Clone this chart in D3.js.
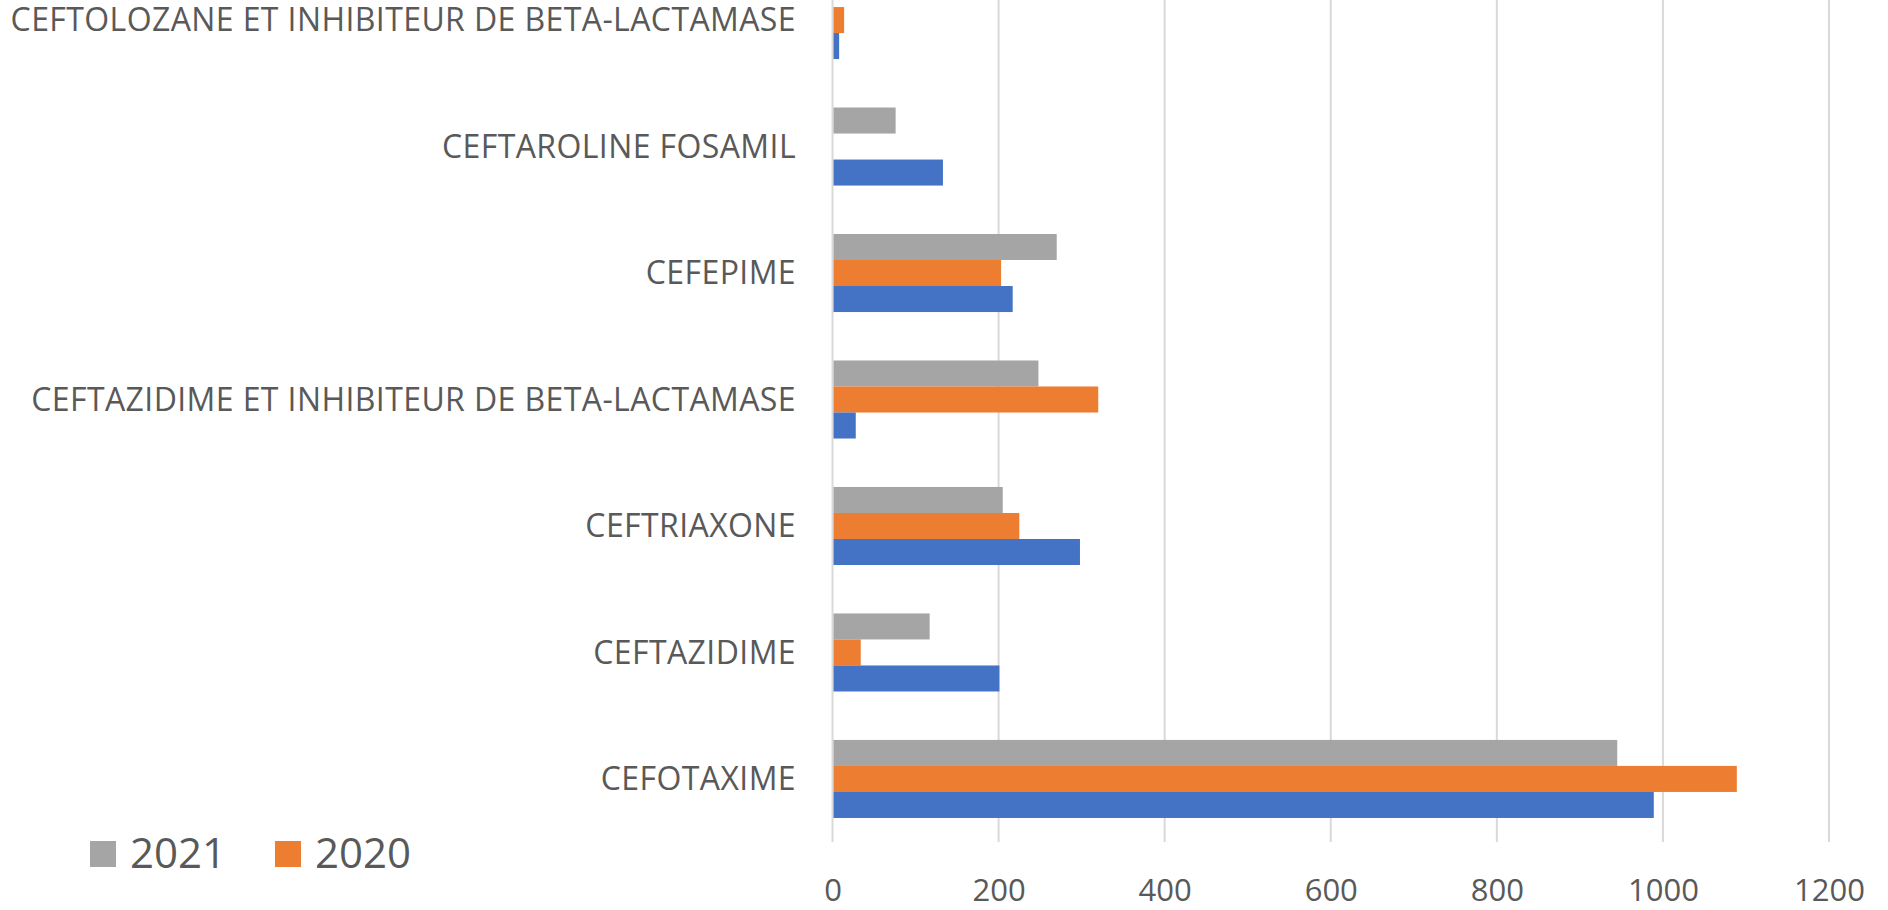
<!DOCTYPE html>
<html>
<head>
<meta charset="utf-8">
<script src="https://cdn.jsdelivr.net/npm/d3@7"></script>
<style>
  html, body { margin: 0; padding: 0; background: #fff; overflow: hidden; }
  svg { display: block; }
</style>
</head>
<body>
<svg id="main"></svg>
<script>
// categories, top to bottom
const categories = [
  'CEFTOLOZANE ET INHIBITEUR DE BETA-LACTAMASE',
  'CEFTAROLINE FOSAMIL',
  'CEFEPIME',
  'CEFTAZIDIME ET INHIBITEUR DE BETA-LACTAMASE',
  'CEFTRIAXONE',
  'CEFTAZIDIME',
  'CEFOTAXIME'
];
const series = ['2021', '2020', '2019'];
const values2021 = [0, 76, 270, 248, 205, 117, 945];
const values2020 = [14, 0, 203, 320, 225, 34, 1089];
const values2019 = [8, 133, 217, 28, 298, 201, 989];
const xTicks = [0, 200, 400, 600, 800, 1000, 1200];
const legendItems = ['2021', '2020'];

const colors = { '2021': '#a5a5a5', '2020': '#ed7d31', '2019': '#4472c4' };
const valueBySeries = { '2021': values2021, '2020': values2020, '2019': values2019 };

let width = 1888,
  height = 910;

const svg = d3.select('#main')
  .attr('width', width)
  .attr('height', height);

const font = "'Open Sans', sans-serif";
const textColor = '#595959';

const x = d3.scaleLinear()
  .domain([0, 1200])
  .range([832.5, 1829]);

const y = d3.scaleBand()
  .domain(categories)
  .range([-43, 842])
  .paddingInner(0.383)
  .paddingOuter(0.19);

const ySub = d3.scaleBand()
  .domain(series)
  .range([0, y.bandwidth()]);

// gridlines
svg.append('g')
  .selectAll('line')
  .data(xTicks)
  .enter()
  .append('line')
  .attr('x1', d => x(d))
  .attr('x2', d => x(d))
  .attr('y1', 0)
  .attr('y2', 842)
  .attr('stroke', '#d9d9d9')
  .attr('stroke-width', 2);

// bars
const rows = [];
categories.forEach((c, i) => {
  series.forEach(s => rows.push({ cat: c, s: s, v: valueBySeries[s][i] }));
});

svg.append('g')
  .selectAll('rect')
  .data(rows)
  .enter()
  .append('rect')
  .attr('x', x(0) + 1)
  .attr('y', d => y(d.cat) + ySub(d.s))
  .attr('width', d => Math.max(0, x(d.v) - x(0) - 1))
  .attr('height', ySub.bandwidth())
  .attr('fill', d => colors[d.s]);

// category labels
svg.append('g')
  .selectAll('text')
  .data(categories)
  .enter()
  .append('text')
  .text(d => d)
  .attr('x', 796)
  .attr('y', d => y(d) + y.bandwidth() / 2)
  .attr('dy', '0.35em')
  .attr('text-anchor', 'end')
  .attr('font-family', font)
  .attr('font-size', '32px')
  .attr('letter-spacing', '0.4px')
  .attr('fill', textColor);

// x axis labels
const xAxis = svg.append('g')
  .attr('transform', 'translate(0, 870)')
  .call(d3.axisBottom(x).tickValues(xTicks).tickFormat(d3.format('d')).tickSize(0).tickPadding(0));
xAxis.select('.domain').remove();
xAxis.selectAll('text')
  .attr('font-family', font)
  .attr('font-size', '31px')
  .attr('fill', textColor)
  .attr('dy', '1.0em');

// legend
const legend = svg.append('g')
  .selectAll('g')
  .data(legendItems)
  .enter()
  .append('g')
  .attr('transform', (d, i) => `translate(${90 + i * 185}, 0)`);

legend.append('rect')
  .attr('x', 0)
  .attr('y', 841)
  .attr('width', 26)
  .attr('height', 26)
  .attr('fill', d => colors[d]);

legend.append('text')
  .text(d => d)
  .attr('x', 40)
  .attr('y', 868)
  .attr('font-family', font)
  .attr('font-size', '42px')
  .attr('fill', textColor);
</script>
</body>
</html>
